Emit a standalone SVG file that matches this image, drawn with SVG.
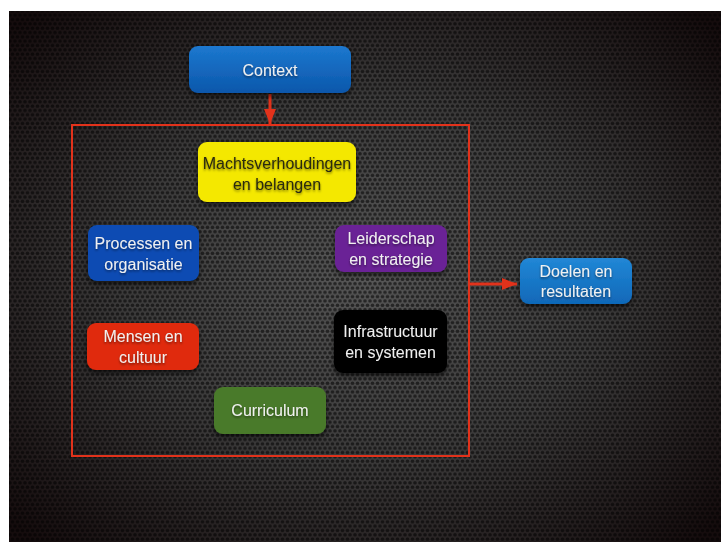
<svg xmlns="http://www.w3.org/2000/svg" width="721" height="542" viewBox="0 0 721 542">
<defs>
<radialGradient id="bg" cx="0.5" cy="0.5" r="0.68">
<stop offset="0" stop-color="#575757"/>
<stop offset="0.5" stop-color="#3c3b3b"/>
<stop offset="1" stop-color="#150c0d"/>
</radialGradient>
<pattern id="hex" width="5" height="8.66" patternUnits="userSpaceOnUse">
<circle cx="2.5" cy="2.165" r="1.8" fill="#000" fill-opacity="0.55"/>
<circle cx="0" cy="6.495" r="1.8" fill="#000" fill-opacity="0.55"/>
<circle cx="5" cy="6.495" r="1.8" fill="#000" fill-opacity="0.55"/>
</pattern>
<linearGradient id="gBlue" x1="0" y1="0" x2="0" y2="1">
<stop offset="0" stop-color="#1c78cf"/>
<stop offset="1" stop-color="#0c57ab"/>
</linearGradient>
<linearGradient id="gBlue2" x1="0" y1="0" x2="0" y2="1">
<stop offset="0" stop-color="#2187d6"/>
<stop offset="1" stop-color="#1068b8"/>
</linearGradient>
<filter id="sh" x="-20%" y="-20%" width="140%" height="150%">
<feDropShadow dx="0" dy="3" stdDeviation="2.5" flood-color="#000" flood-opacity="0.6"/>
</filter>
<filter id="tsh" x="-10%" y="-30%" width="120%" height="160%">
<feDropShadow dx="0" dy="1.5" stdDeviation="1" flood-color="#000" flood-opacity="0.5"/>
</filter>
<marker id="ah" viewBox="0 0 10 8" refX="10" refY="4" markerWidth="5" markerHeight="4" orient="auto" markerUnits="strokeWidth">
<path d="M0,0 L10,4 L0,8 z" fill="#e2321b"/>
</marker>
</defs>
<style>
.box{filter:url(#sh)}
.t{font-family:"Liberation Sans",Arial,Helvetica,sans-serif;font-size:16px;fill:#f0f0f0;text-anchor:middle;filter:url(#tsh)}
.dark{fill:#2a2a10}
.edge{stroke:#e2321b;stroke-width:3;fill:none}
</style>
<rect x="0" y="0" width="721" height="542" fill="#ffffff"/>
<rect x="9" y="11" width="712" height="531" fill="url(#bg)"/>
<rect x="9" y="11" width="712" height="531" fill="url(#hex)"/>
<g id="connectors">
<rect x="72" y="125" width="397" height="331" fill="none" stroke="#e2321b" stroke-width="2"/>
<line class="edge" x1="270" y1="94" x2="270" y2="124" marker-end="url(#ah)"/>
<line class="edge" x1="469" y1="284" x2="517" y2="284" marker-end="url(#ah)"/>
</g>
<g id="context">
<rect class="box" x="189" y="46" width="162" height="47" rx="9" fill="url(#gBlue)"/>
<text class="t" x="270" y="76">Context</text>
</g>
<g id="machtsverhoudingen">
<rect class="box" x="198" y="142" width="158" height="60" rx="9" fill="#f4e800"/>
<text class="t dark" x="277" y="169">Machtsverhoudingen</text>
<text class="t dark" x="277" y="190">en belangen</text>
</g>
<g id="processen">
<rect class="box" x="88" y="225" width="111" height="56" rx="9" fill="#0a4cb3"/>
<text class="t" x="143.5" y="249">Processen en</text>
<text class="t" x="143.5" y="270">organisatie</text>
</g>
<g id="leiderschap">
<rect class="box" x="335" y="225" width="112" height="47" rx="9" fill="#6b2296"/>
<text class="t" x="391" y="244">Leiderschap</text>
<text class="t" x="391" y="265">en strategie</text>
</g>
<g id="doelen">
<rect class="box" x="520" y="258" width="112" height="46" rx="9" fill="url(#gBlue2)"/>
<text class="t" x="576" y="277">Doelen en</text>
<text class="t" x="576" y="297">resultaten</text>
</g>
<g id="mensen">
<rect class="box" x="87" y="323" width="112" height="47" rx="9" fill="#e0290b"/>
<text class="t" x="143" y="342">Mensen en</text>
<text class="t" x="143" y="363">cultuur</text>
</g>
<g id="infrastructuur">
<rect class="box" x="334" y="310" width="113" height="63" rx="9" fill="#000000"/>
<text class="t" x="390.5" y="337">Infrastructuur</text>
<text class="t" x="390.5" y="358">en systemen</text>
</g>
<g id="curriculum">
<rect class="box" x="214" y="387" width="112" height="47" rx="9" fill="#4a7a2b"/>
<text class="t" x="270" y="416">Curriculum</text>
</g>
</svg>
